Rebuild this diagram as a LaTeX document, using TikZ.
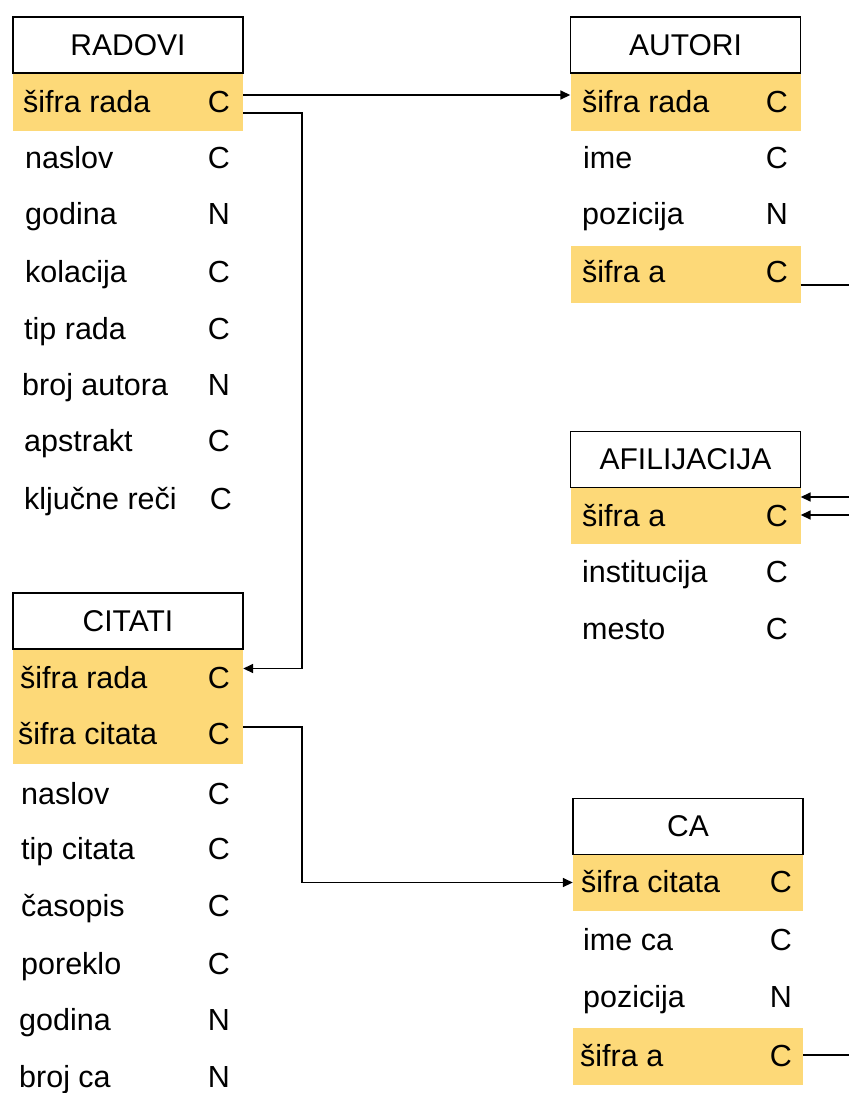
\documentclass[tikz,border=0pt]{standalone}
\usepackage{fontspec}
\setmainfont{Liberation Sans}
\usetikzlibrary{arrows.meta}
\definecolor{keyc}{RGB}{253,217,120}
\tikzset{
  hdr/.style={draw, line width=1.6pt, fill=white, minimum width=230pt, minimum height=56pt, inner sep=0pt, font=\fontsize{30}{34}\selectfont},
  keyrow/.style={fill=keyc, minimum width=230pt, minimum height=57.5pt, inner sep=0pt},
  fld/.style={anchor=base west, inner sep=0pt, font=\fontsize{30.5}{34}\selectfont},
  typ/.style={anchor=base, inner sep=0pt, font=\fontsize{30.5}{34}\selectfont},
  conn/.style={line width=1.6pt},
  arr/.style={conn, -{Triangle[length=10pt,width=9pt]}}
}
\begin{document}
\begin{tikzpicture}[x=1pt,y=-1pt]
\useasboundingbox (0,0) rectangle (849,1093);
% key rows (drawn first so header borders stay visible)
\node[keyrow] (rk) at (128,102) {};
\node[keyrow] (ck1) at (128,678.5) {};
\node[keyrow] (ck2) at (128,735.5) {};
\node[keyrow] (ak1) at (685.5,102) {};
\node[keyrow] (ak2) at (685.5,274.5) {};
\node[keyrow] (fk) at (685.5,515.5) {};
\node[keyrow] (cak1) at (688,882.5) {};
\node[keyrow] (cak2) at (688,1056.5) {};
% headers
\node[hdr] (rh) at (128,45) {RADOVI};
\node[hdr] (ch) at (128,621) {CITATI};
\node[hdr] (ah) at (685.5,45) {AUTORI};
\node[hdr] (fh) at (685.5,459.5) {AFILIJACIJA};
\node[hdr] (cah) at (688,826.5) {CA};
% RADOVI
\node[fld] (r1) at (23,112) {šifra rada};  \node[typ] (r1t) at (219,112) {C};
\node[fld] (r2) at (25,168) {naslov};      \node[typ] (r2t) at (219,168) {C};
\node[fld] (r3) at (25,224) {godina};      \node[typ] (r3t) at (219,224) {N};
\node[fld] (r4) at (25,282) {kolacija};    \node[typ] (r4t) at (219,282) {C};
\node[fld] (r5) at (24,339) {tip rada};    \node[typ] (r5t) at (219,339) {C};
\node[fld] (r6) at (22,395) {broj autora}; \node[typ] (r6t) at (219,395) {N};
\node[fld] (r7) at (24,451) {apstrakt};    \node[typ] (r7t) at (219,451) {C};
\node[fld] (r8) at (24,509) {ključne reči};\node[typ] (r8t) at (221,509) {C};
% CITATI
\node[fld] (c1) at (20,688) {šifra rada};   \node[typ] (c1t) at (219,688) {C};
\node[fld] (c2) at (18,744) {šifra citata}; \node[typ] (c2t) at (219,744) {C};
\node[fld] (c3) at (21,804) {naslov};       \node[typ] (c3t) at (219,804) {C};
\node[fld] (c4) at (21,859) {tip citata};   \node[typ] (c4t) at (219,859) {C};
\node[fld] (c5) at (21,916) {časopis};      \node[typ] (c5t) at (219,916) {C};
\node[fld] (c6) at (21,974) {poreklo};      \node[typ] (c6t) at (219,974) {C};
\node[fld] (c7) at (19,1030) {godina};      \node[typ] (c7t) at (219,1030) {N};
\node[fld] (c8) at (19,1087) {broj ca};     \node[typ] (c8t) at (219,1087) {N};
% AUTORI
\node[fld] (a1) at (582,112) {šifra rada}; \node[typ] (a1t) at (777,112) {C};
\node[fld] (a2) at (583,168) {ime};        \node[typ] (a2t) at (777,168) {C};
\node[fld] (a3) at (582,224) {pozicija};   \node[typ] (a3t) at (777,224) {N};
\node[fld] (a4) at (582,282) {šifra a};    \node[typ] (a4t) at (777,282) {C};
% AFILIJACIJA
\node[fld] (f1) at (582,526) {šifra a};     \node[typ] (f1t) at (777,526) {C};
\node[fld] (f2) at (582,582) {institucija}; \node[typ] (f2t) at (777,582) {C};
\node[fld] (f3) at (582,639) {mesto};       \node[typ] (f3t) at (777,639) {C};
% CA
\node[fld] (ca1) at (581,892) {šifra citata}; \node[typ] (ca1t) at (781,892) {C};
\node[fld] (ca2) at (583,950) {ime ca};       \node[typ] (ca2t) at (781,950) {C};
\node[fld] (ca3) at (583,1007) {pozicija};    \node[typ] (ca3t) at (781,1007) {N};
\node[fld] (ca4) at (580,1066) {šifra a};     \node[typ] (ca4t) at (781,1066) {C};
% free ends
\coordinate (e1) at (849,285);
\coordinate (e2) at (849,497);
\coordinate (e3) at (849,515);
\coordinate (e4) at (849,1055);
% connectors
\draw[arr] ([yshift=7pt]rk.east) -- ([yshift=7pt]ak1.west);
\draw[arr] ([yshift=-11pt]rk.east) -- ++(59,0) |- ([yshift=10pt]ck1.east);
\draw[arr] ([yshift=8.5pt]ck2.east) -- ++(59,0) |- (cak1.west);
\draw[conn] ([yshift=-10.5pt]ak2.east) -- (e1);
\draw[arr] (e2) -- (fk.east |- e2);
\draw[arr] (e3) -- (fk.east |- e3);
\draw[conn] ([yshift=1.5pt]cak2.east) -- (e4);
\end{tikzpicture}
\end{document}
